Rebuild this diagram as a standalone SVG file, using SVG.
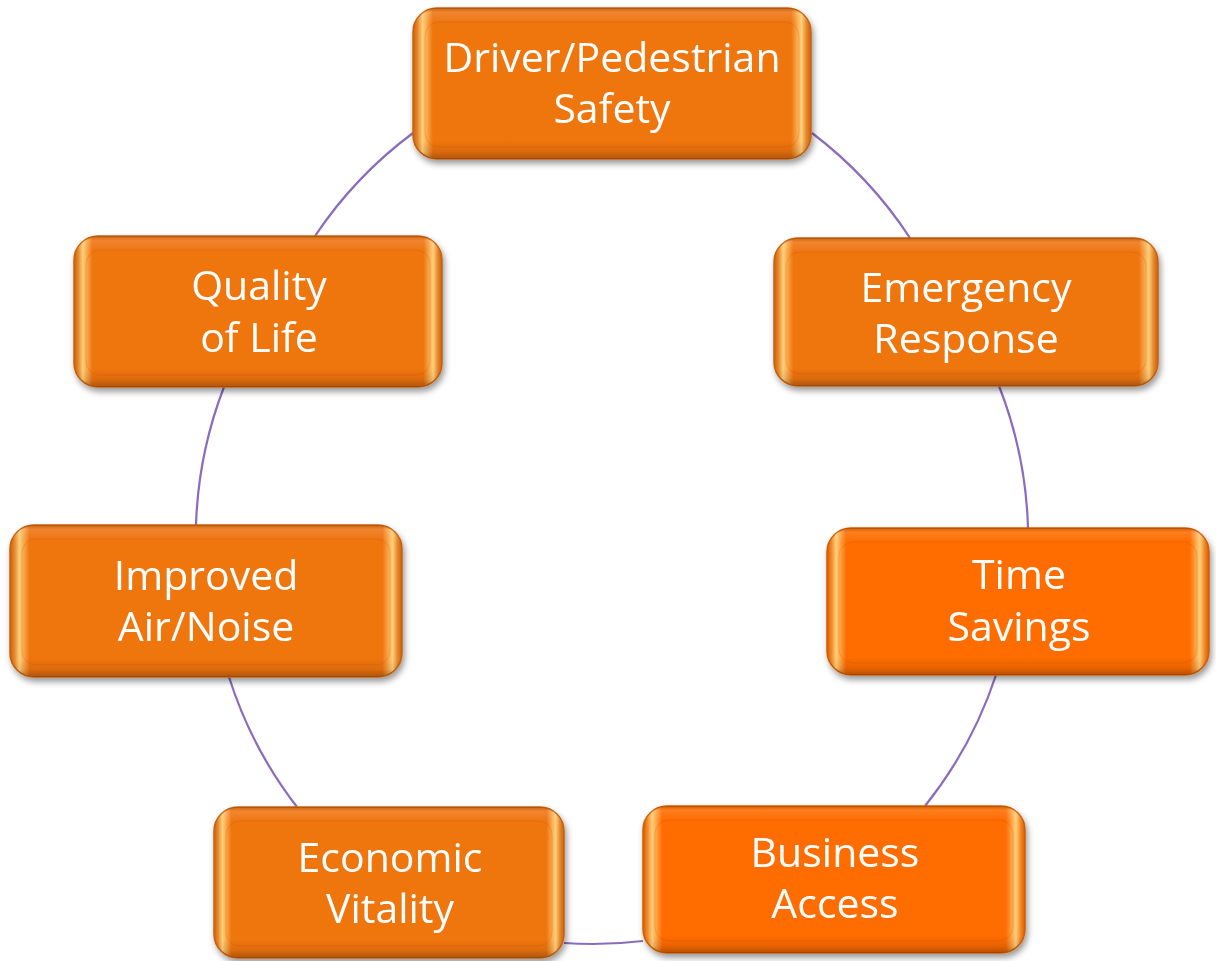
<svg xmlns="http://www.w3.org/2000/svg" width="1216" height="961" viewBox="0 0 1216 961">
<defs>
<filter id="sh" x="-10%" y="-10%" width="120%" height="130%">
<feDropShadow dx="2" dy="4" stdDeviation="3" flood-color="#000" flood-opacity="0.4"/>
</filter>
<linearGradient id="rimA" x1="0" y1="0" x2="1" y2="0">
<stop offset="0" stop-color="#C9610B"/>
<stop offset="0.012" stop-color="#E88A2E"/>
<stop offset="0.024" stop-color="#FFD07C"/>
<stop offset="0.036" stop-color="#F9A447"/>
<stop offset="0.05" stop-color="#EF7411"/>
<stop offset="0.95" stop-color="#EF7411"/>
<stop offset="0.964" stop-color="#F9A447"/>
<stop offset="0.976" stop-color="#FFD07C"/>
<stop offset="0.988" stop-color="#E88A2E"/>
<stop offset="1" stop-color="#C9610B"/>
</linearGradient>
<linearGradient id="rimB" x1="0" y1="0" x2="1" y2="0">
<stop offset="0" stop-color="#D25E00"/>
<stop offset="0.012" stop-color="#F58A2A"/>
<stop offset="0.024" stop-color="#FFD07C"/>
<stop offset="0.036" stop-color="#FFA040"/>
<stop offset="0.05" stop-color="#FF6C00"/>
<stop offset="0.95" stop-color="#FF6C00"/>
<stop offset="0.964" stop-color="#FFA040"/>
<stop offset="0.976" stop-color="#FFD07C"/>
<stop offset="0.988" stop-color="#F58A2A"/>
<stop offset="1" stop-color="#D25E00"/>
</linearGradient>
<linearGradient id="vshade" x1="0" y1="0" x2="0" y2="1">
<stop offset="0" stop-color="#000" stop-opacity="0.18"/>
<stop offset="0.03" stop-color="#fff" stop-opacity="0.12"/>
<stop offset="0.1" stop-color="#fff" stop-opacity="0"/>
<stop offset="0.88" stop-color="#000" stop-opacity="0"/>
<stop offset="0.95" stop-color="#000" stop-opacity="0.08"/>
<stop offset="1" stop-color="#000" stop-opacity="0.28"/>
</linearGradient>
</defs>
<style>
.conn{fill:none;stroke:#8A6CBE;stroke-width:2.2}
.box{filter:url(#sh)}
.a .outer{fill:url(#rimA);stroke:#C9610B;stroke-width:1.5}
.b .outer{fill:url(#rimB);stroke:#D25E00;stroke-width:1.5}
.shade{fill:url(#vshade)}
.inner{fill:none;stroke:#B85400;stroke-opacity:0.22;stroke-width:1}
.lbl{font-family:"Open Sans","Noto Sans","Liberation Sans",sans-serif;font-size:41px;fill:#fff;text-anchor:middle}
</style>
<rect width="1216" height="961" fill="#fff"/>
<g id="connectors">
<path class="conn" d="M812,133 A420,420 0 0 1 910,238"/>
<path class="conn" d="M999,386 A420,420 0 0 1 1028,528"/>
<path class="conn" d="M996,675 A420,420 0 0 1 925,806"/>
<path class="conn" d="M643,941 A420,420 0 0 1 564,943"/>
<path class="conn" d="M297,807 A420,420 0 0 1 229,677"/>
<path class="conn" d="M196,525 A420,420 0 0 1 224,387"/>
<path class="conn" d="M315,236 A420,420 0 0 1 413,133"/>
</g>
<g id="n-driver" class="box a">
<rect class="outer" x="413" y="8" width="398" height="151" rx="24"/>
<rect class="shade" x="413" y="8" width="398" height="151" rx="24"/>
<rect class="inner" x="425" y="22" width="374" height="125" rx="14"/>
<text class="lbl" x="612" y="72">Driver/Pedestrian</text>
<text class="lbl" x="612" y="123">Safety</text>
</g>
<g id="n-emergency" class="box a">
<rect class="outer" x="774" y="238" width="384" height="148" rx="24"/>
<rect class="shade" x="774" y="238" width="384" height="148" rx="24"/>
<rect class="inner" x="786" y="252" width="360" height="122" rx="14"/>
<text class="lbl" x="966" y="302">Emergency</text>
<text class="lbl" x="966" y="353">Response</text>
</g>
<g id="n-time" class="box b">
<rect class="outer" x="827" y="528" width="382" height="147" rx="24"/>
<rect class="shade" x="827" y="528" width="382" height="147" rx="24"/>
<rect class="inner" x="839" y="542" width="358" height="121" rx="14"/>
<text class="lbl" x="1019" y="589">Time</text>
<text class="lbl" x="1019" y="641">Savings</text>
</g>
<g id="n-business" class="box b">
<rect class="outer" x="643" y="806" width="382" height="147" rx="24"/>
<rect class="shade" x="643" y="806" width="382" height="147" rx="24"/>
<rect class="inner" x="655" y="820" width="358" height="121" rx="14"/>
<text class="lbl" x="835" y="867">Business</text>
<text class="lbl" x="835" y="918">Access</text>
</g>
<g id="n-economic" class="box a">
<rect class="outer" x="214" y="807" width="350" height="151" rx="24"/>
<rect class="shade" x="214" y="807" width="350" height="151" rx="24"/>
<rect class="inner" x="226" y="821" width="326" height="125" rx="14"/>
<text class="lbl" x="390" y="872">Economic</text>
<text class="lbl" x="390" y="923">Vitality</text>
</g>
<g id="n-improved" class="box a">
<rect class="outer" x="10" y="525" width="392" height="152" rx="24"/>
<rect class="shade" x="10" y="525" width="392" height="152" rx="24"/>
<rect class="inner" x="22" y="539" width="368" height="126" rx="14"/>
<text class="lbl" x="206" y="590">Improved</text>
<text class="lbl" x="206" y="641">Air/Noise</text>
</g>
<g id="n-quality" class="box a">
<rect class="outer" x="74" y="236" width="368" height="151" rx="24"/>
<rect class="shade" x="74" y="236" width="368" height="151" rx="24"/>
<rect class="inner" x="86" y="250" width="344" height="125" rx="14"/>
<text class="lbl" x="259" y="300">Quality</text>
<text class="lbl" x="259" y="352">of Life</text>
</g>
</svg>
